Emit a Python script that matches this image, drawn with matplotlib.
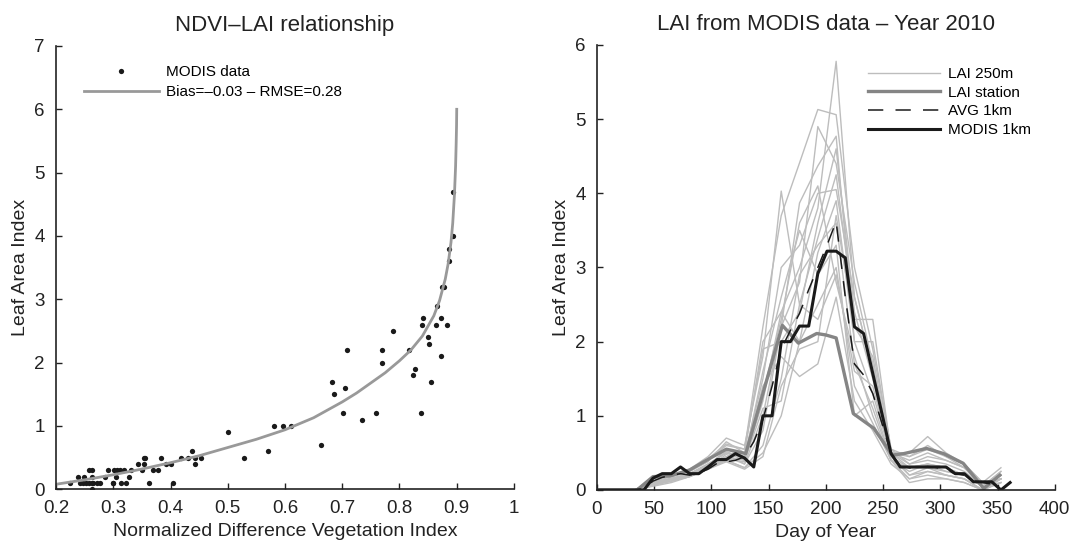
import numpy as np
import matplotlib
matplotlib.use("Agg")
import matplotlib.pyplot as plt

plt.rcParams["font.family"] = ["Liberation Sans", "DejaVu Sans"]

# ---- left panel: NDVI vs LAI ----
ndvi_pts = [0.893, 0.894, 0.887, 0.887, 0.874, 0.877, 0.865, 0.841, 0.840, 0.873,
            0.863, 0.883, 0.850, 0.852, 0.872, 0.855, 0.827, 0.823, 0.817, 0.789,
            0.770, 0.770, 0.708, 0.682, 0.686, 0.705, 0.702, 0.734, 0.759, 0.838,
            0.663, 0.580, 0.597, 0.610, 0.500, 0.528, 0.570,
            0.453, 0.442, 0.431, 0.437, 0.418, 0.442, 0.405, 0.400, 0.393, 0.384,
            0.379, 0.370, 0.362, 0.355, 0.354, 0.354, 0.344, 0.350, 0.331, 0.328,
            0.323, 0.314, 0.319, 0.312, 0.307, 0.302, 0.305, 0.300, 0.299, 0.291,
            0.286, 0.276, 0.271, 0.263, 0.258, 0.262, 0.263, 0.249, 0.238, 0.225,
            0.242, 0.247, 0.253, 0.258, 0.262, 0.265]
lai_pts = [4.7, 4.0, 3.8, 3.6, 3.2, 3.2, 2.9, 2.7, 2.6, 2.7,
           2.6, 2.6, 2.4, 2.3, 2.1, 1.7, 1.9, 1.8, 2.2, 2.5,
           2.2, 2.0, 2.2, 1.7, 1.5, 1.6, 1.2, 1.1, 1.2, 1.2,
           0.7, 1.0, 1.0, 1.0, 0.9, 0.5, 0.6,
           0.5, 0.5, 0.5, 0.6, 0.5, 0.4, 0.1, 0.4, 0.4, 0.5,
           0.3, 0.3, 0.1, 0.5, 0.5, 0.4, 0.4, 0.3, 0.3, 0.2,
           0.1, 0.1, 0.3, 0.3, 0.3, 0.3, 0.2, 0.1, 0.1, 0.3,
           0.2, 0.1, 0.1, 0.3, 0.3, 0.2, 0.0, 0.2, 0.2, 0.1,
           0.1, 0.1, 0.1, 0.1, 0.1, 0.1]

# fitted curve
fit_ndvi = [0.200, 0.250, 0.300, 0.350, 0.400, 0.450, 0.500, 0.550, 0.600, 0.650,
            0.700, 0.725, 0.750, 0.775, 0.800, 0.820, 0.840, 0.860, 0.870, 0.880,
            0.885, 0.890, 0.893, 0.896, 0.898, 0.899, 0.8997, 0.900]
fit_lai = [0.08, 0.15, 0.23, 0.32, 0.42, 0.53, 0.66, 0.79, 0.94, 1.13,
           1.38, 1.52, 1.68, 1.84, 2.03, 2.20, 2.42, 2.74, 2.98, 3.32,
           3.56, 3.90, 4.20, 4.65, 5.10, 5.45, 5.75, 6.00]

# ---- right panel: LAI time series 2010 ----
days_250 = [1, 17, 33, 49, 65, 81, 97, 113, 129, 145, 161, 177, 193, 209, 225,
            241, 257, 273, 289, 305, 321, 337, 353]
lai_250 = [
    [0, 0, 0, 0.10, 0.15, 0.22, 0.35, 0.50, 0.40, 1.20, 2.40, 3.00, 3.80, 5.78, 2.60, 1.60, 0.50, 0.30, 0.35, 0.30, 0.20, 0.05, 0.20],
    [0, 0, 0, 0.12, 0.18, 0.25, 0.40, 0.60, 0.55, 2.20, 3.70, 4.41, 5.13, 5.06, 3.00, 1.90, 0.55, 0.45, 0.60, 0.45, 0.30, 0.05, 0.25],
    [0, 0, 0, 0.15, 0.20, 0.28, 0.45, 0.70, 0.60, 1.80, 4.03, 2.50, 3.40, 4.25, 2.30, 2.30, 0.50, 0.50, 0.72, 0.50, 0.35, 0.10, 0.15],
    [0, 0, 0, 0.08, 0.12, 0.20, 0.30, 0.45, 0.35, 1.00, 2.20, 3.87, 4.37, 4.77, 2.00, 1.30, 0.45, 0.20, 0.25, 0.20, 0.15, 0.00, 0.20],
    [0, 0, 0, 0.10, 0.15, 0.20, 0.32, 0.55, 0.45, 1.50, 3.00, 3.30, 4.00, 4.05, 2.60, 1.60, 0.50, 0.40, 0.50, 0.40, 0.30, 0.05, 0.15],
    [0, 0, 0, 0.05, 0.10, 0.18, 0.28, 0.40, 0.30, 0.60, 1.50, 2.90, 3.30, 3.60, 1.70, 1.10, 0.40, 0.15, 0.20, 0.15, 0.10, 0.00, 0.10],
    [0, 0, 0, 0.12, 0.18, 0.25, 0.38, 0.65, 0.50, 2.00, 2.40, 2.00, 2.50, 3.00, 1.40, 0.90, 0.40, 0.25, 0.35, 0.30, 0.20, 0.05, 0.20],
    [0, 0, 0, 0.10, 0.15, 0.22, 0.35, 0.50, 0.45, 1.40, 1.80, 1.53, 1.70, 2.60, 1.20, 0.80, 0.35, 0.15, 0.25, 0.20, 0.15, 0.00, 0.15],
    [0, 0, 0, 0.08, 0.14, 0.20, 0.30, 0.40, 0.30, 0.50, 1.00, 2.00, 3.20, 3.90, 2.00, 2.00, 0.55, 0.35, 0.40, 0.35, 0.25, 0.05, 0.25],
    [0, 0, 0, 0.10, 0.16, 0.22, 0.33, 0.52, 0.42, 1.60, 2.60, 3.50, 2.90, 3.30, 1.00, 1.20, 0.40, 0.10, 0.15, 0.15, 0.10, 0.00, 0.10],
    [0, 0, 0, 0.06, 0.12, 0.18, 0.30, 0.48, 0.35, 0.80, 2.20, 2.80, 4.90, 4.40, 2.80, 1.70, 0.50, 0.45, 0.55, 0.45, 0.35, 0.10, 0.30],
    [0, 0, 0, 0.10, 0.15, 0.20, 0.32, 0.45, 0.40, 1.10, 1.20, 2.50, 2.30, 2.90, 1.60, 1.40, 0.45, 0.30, 0.30, 0.25, 0.20, 0.05, 0.15],
    [0, 0, 0, 0.12, 0.20, 0.26, 0.42, 0.62, 0.55, 1.90, 2.00, 2.40, 3.60, 4.60, 2.40, 1.50, 0.50, 0.35, 0.45, 0.40, 0.30, 0.05, 0.20],
    [0, 0, 0, 0.07, 0.12, 0.18, 0.28, 0.38, 0.28, 0.45, 1.40, 1.90, 2.00, 3.70, 2.20, 1.80, 0.45, 0.20, 0.30, 0.20, 0.15, 0.00, 0.15],
    [0, 0, 0, 0.10, 0.14, 0.20, 0.30, 0.42, 0.38, 1.30, 2.30, 3.60, 4.10, 2.80, 1.80, 1.00, 0.40, 0.30, 0.35, 0.25, 0.20, 0.05, 0.10],
]

days_station = [1, 35, 49, 64, 81, 99, 113, 122, 130, 162, 176, 192, 200, 209,
                224, 242, 258, 268, 288, 303, 320, 338, 352]
lai_station = [0, 0, 0.18, 0.19, 0.27, 0.43, 0.55, 0.52, 0.49, 2.22, 1.98, 2.11, 2.09, 2.05,
               1.03, 0.83, 0.47, 0.49, 0.56, 0.49, 0.36, 0.02, 0.20]

days_avg = [1, 33, 41, 49, 57, 65, 73, 81, 89, 97, 105, 113, 121, 129, 137, 145, 153,
            161, 169, 177, 185, 193, 201, 209, 217, 225, 233, 241, 249, 257, 265, 273,
            281, 289, 297, 305, 313, 321, 329, 337, 345, 353]
lai_avg = [0, 0, 0.02, 0.12, 0.17, 0.20, 0.22, 0.20, 0.23, 0.28, 0.36, 0.38, 0.40, 0.45,
           0.65, 0.95, 1.40, 1.90, 2.15, 2.38, 2.70, 3.00, 3.30, 3.62, 2.60, 1.70, 1.55,
           1.30, 0.90, 0.49, 0.32, 0.30, 0.30, 0.32, 0.30, 0.28, 0.22, 0.20, 0.12, 0.10,
           0.08, 0.05]

days_modis = [1, 9, 17, 25, 33, 41, 49, 57, 65, 73, 81, 89, 97, 105, 113, 121, 129,
              137, 145, 153, 161, 169, 177, 185, 193, 201, 209, 217, 225, 233, 257,
              265, 273, 281, 289, 297, 305, 313, 321, 329, 337, 345, 353, 361]
lai_modis = [0, 0, 0, 0, 0, 0, 0.16, 0.22, 0.22, 0.31, 0.22, 0.22, 0.31, 0.41, 0.41,
             0.49, 0.43, 0.31, 1.00, 1.00, 2.00, 2.00, 2.21, 2.21, 2.92, 3.22, 3.22,
             3.13, 2.20, 2.11, 0.49, 0.31, 0.31, 0.31, 0.31, 0.31, 0.31, 0.22, 0.22,
             0.11, 0.11, 0.11, 0.00, 0.10]

fig = plt.figure(figsize=(10.71, 5.44), dpi=100)
ax1 = fig.add_axes([0.0523, 0.1005, 0.4276, 0.815])
ax2 = fig.add_axes([0.5574, 0.0993, 0.4274, 0.818])

TICK_FS = 13.5
LAB_FS = 14
TITLE_FS = 16
LEG_FS = 11


def style(ax):
    for s in ("top", "right"):
        ax.spines[s].set_visible(False)
    for s in ("left", "bottom"):
        ax.spines[s].set_linewidth(1.2)
        ax.spines[s].set_color("#222222")
    ax.tick_params(direction="in", length=4.5, width=1.0, color="#222222",
                   labelsize=TICK_FS, labelcolor="#222222", pad=8)


# left panel
ax1.plot(ndvi_pts, lai_pts, "o", color="#1a1a1a", ms=3.8, mew=0, label="MODIS data")
ax1.plot(fit_ndvi, fit_lai, "-", color="#999999", lw=2.0,
         label="Bias=\u20130.03 \u2013 RMSE=0.28")
ax1.set_xlim(0.2, 1.0)
ax1.set_ylim(0, 7)
ax1.set_xticks([0.2, 0.3, 0.4, 0.5, 0.6, 0.7, 0.8, 0.9, 1.0])
ax1.set_xticklabels(["0.2", "0.3", "0.4", "0.5", "0.6", "0.7", "0.8", "0.9", "1"])
ax1.set_yticks(range(0, 8))
style(ax1)
ax1.set_xlabel("Normalized Difference Vegetation Index", fontsize=LAB_FS, color="#222222")
ax1.set_ylabel("Leaf Area Index", fontsize=LAB_FS, color="#222222")
ax1.set_title("NDVI\u2013LAI relationship", fontsize=TITLE_FS, color="#222222", pad=11)
ax1.legend(loc="upper left", bbox_to_anchor=(0.061, 0.957), frameon=False,
           fontsize=LEG_FS, handlelength=4.9, handletextpad=0.5, labelspacing=0.4,
           borderpad=0, borderaxespad=0, numpoints=1)

# right panel
for i, row in enumerate(lai_250):
    ax2.plot(days_250, row, "-", color="#bdbdbd", lw=1.0,
             label="LAI 250m" if i == 0 else None)
ax2.plot(days_station, lai_station, "-", color="#858585", lw=2.4, label="LAI station")
ax2.plot(days_avg, lai_avg, "--", color="#1a1a1a", lw=1.1, dashes=(10, 8), label="AVG 1km")
ax2.plot(days_modis, lai_modis, "-", color="#1a1a1a", lw=2.2, label="MODIS 1km")
ax2.set_xlim(0, 400)
ax2.set_ylim(0, 6)
ax2.set_xticks(range(0, 401, 50))
ax2.set_yticks(range(0, 7))
style(ax2)
ax2.set_xlabel("Day of Year", fontsize=LAB_FS, color="#222222")
ax2.set_ylabel("Leaf Area Index", fontsize=LAB_FS, color="#222222")
ax2.set_title("LAI from MODIS data \u2013 Year 2010", fontsize=TITLE_FS, color="#222222", pad=11)
ax2.legend(loc="upper left", bbox_to_anchor=(0.593, 0.950), frameon=False,
           fontsize=LEG_FS, handlelength=4.7, handletextpad=0.5, labelspacing=0.3,
           borderpad=0, borderaxespad=0)

fig.savefig("out.png", dpi=100, facecolor="white")
